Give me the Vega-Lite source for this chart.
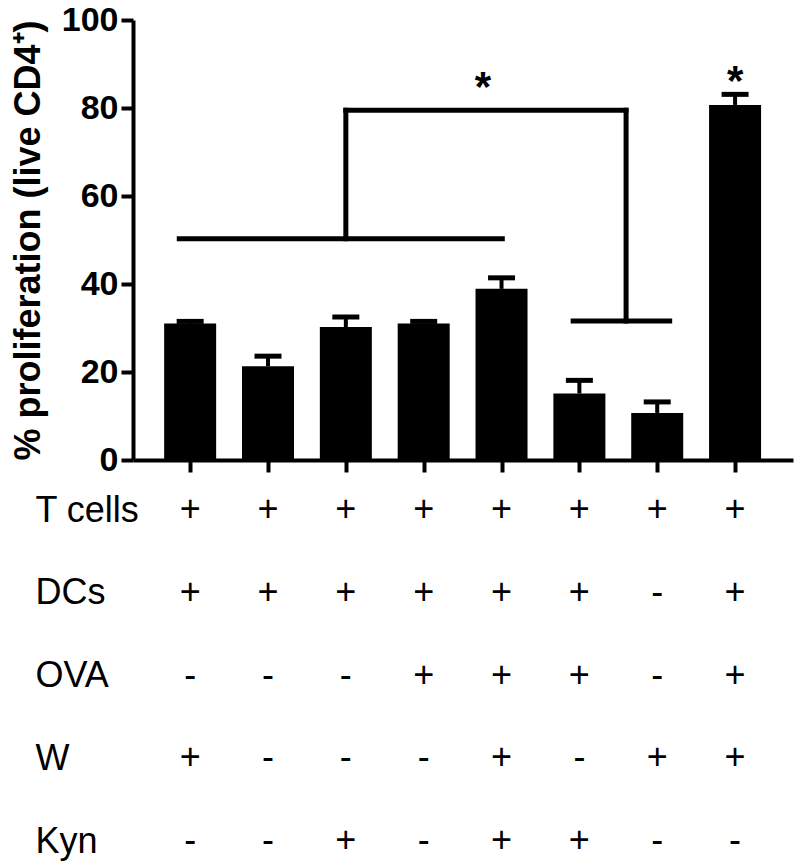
{
  "$schema": "https://vega.github.io/schema/vega-lite/v6.json",
  "autosize": "none",
  "width": 660,
  "height": 440,
  "padding": {"left": 133, "top": 20, "right": 7, "bottom": 405},
  "background": "white",
  "config": {"view": {"stroke": null}, "font": "Liberation Sans"},
  "datasets": {
    "bars": [
      {"group": 1, "value": 31.0, "upper": 31.5},
      {"group": 2, "value": 21.3, "upper": 23.6},
      {"group": 3, "value": 30.2, "upper": 32.5},
      {"group": 4, "value": 31.0, "upper": 31.5},
      {"group": 5, "value": 38.9, "upper": 41.4},
      {"group": 6, "value": 15.1, "upper": 18.1},
      {"group": 7, "value": 10.7, "upper": 13.2},
      {"group": 8, "value": 80.7, "upper": 83.1}
    ],
    "brackets": [
      {"group": 0.86, "group2": 5.01, "value": 50.3, "value2": 50.3},
      {"group": 3.0, "group2": 3.0, "value": 50.3, "value2": 79.5},
      {"group": 3.0, "group2": 6.6, "value": 79.5, "value2": 79.5},
      {"group": 6.6, "group2": 6.6, "value": 79.5, "value2": 31.6},
      {"group": 5.92, "group2": 7.16, "value": 31.6, "value2": 31.6}
    ],
    "stars": [
      {"group": 4.76, "value": 81.6, "label": "*"},
      {"group": 8.0, "value": 82.9, "label": "*"}
    ],
    "table": [
      {"group": 1, "factor": "T cells", "sign": "+"},
      {"group": 2, "factor": "T cells", "sign": "+"},
      {"group": 3, "factor": "T cells", "sign": "+"},
      {"group": 4, "factor": "T cells", "sign": "+"},
      {"group": 5, "factor": "T cells", "sign": "+"},
      {"group": 6, "factor": "T cells", "sign": "+"},
      {"group": 7, "factor": "T cells", "sign": "+"},
      {"group": 8, "factor": "T cells", "sign": "+"},
      {"group": 1, "factor": "DCs", "sign": "+"},
      {"group": 2, "factor": "DCs", "sign": "+"},
      {"group": 3, "factor": "DCs", "sign": "+"},
      {"group": 4, "factor": "DCs", "sign": "+"},
      {"group": 5, "factor": "DCs", "sign": "+"},
      {"group": 6, "factor": "DCs", "sign": "+"},
      {"group": 7, "factor": "DCs", "sign": "-"},
      {"group": 8, "factor": "DCs", "sign": "+"},
      {"group": 1, "factor": "OVA", "sign": "-"},
      {"group": 2, "factor": "OVA", "sign": "-"},
      {"group": 3, "factor": "OVA", "sign": "-"},
      {"group": 4, "factor": "OVA", "sign": "+"},
      {"group": 5, "factor": "OVA", "sign": "+"},
      {"group": 6, "factor": "OVA", "sign": "+"},
      {"group": 7, "factor": "OVA", "sign": "-"},
      {"group": 8, "factor": "OVA", "sign": "+"},
      {"group": 1, "factor": "W", "sign": "+"},
      {"group": 2, "factor": "W", "sign": "-"},
      {"group": 3, "factor": "W", "sign": "-"},
      {"group": 4, "factor": "W", "sign": "-"},
      {"group": 5, "factor": "W", "sign": "+"},
      {"group": 6, "factor": "W", "sign": "-"},
      {"group": 7, "factor": "W", "sign": "+"},
      {"group": 8, "factor": "W", "sign": "+"},
      {"group": 1, "factor": "Kyn", "sign": "-"},
      {"group": 2, "factor": "Kyn", "sign": "-"},
      {"group": 3, "factor": "Kyn", "sign": "+"},
      {"group": 4, "factor": "Kyn", "sign": "-"},
      {"group": 5, "factor": "Kyn", "sign": "+"},
      {"group": 6, "factor": "Kyn", "sign": "+"},
      {"group": 7, "factor": "Kyn", "sign": "-"},
      {"group": 8, "factor": "Kyn", "sign": "-"}
    ]
  },
  "layer": [
    {
      "layer": [
        {
          "data": {"name": "bars"},
          "mark": {"type": "bar", "orient": "vertical", "size": 52, "color": "black"},
          "encoding": {
            "x": {"field": "group", "type": "quantitative",
                  "scale": {"domain": [0.33, 8.68], "nice": false, "zero": false},
                  "axis": {"values": [1, 2, 3, 4, 5, 6, 7, 8], "labels": false, "title": null, "grid": false,
                           "tickSize": 12, "tickWidth": 4, "tickColor": "black",
                           "domainWidth": 4, "domainColor": "black"}},
            "y": {"field": "value", "type": "quantitative",
                  "scale": {"domain": [0, 100], "nice": false},
                  "axis": {"values": [0, 20, 40, 60, 80, 100], "grid": false,
                           "title": "% proliferation (live CD4⁺)",
                           "titleFont": "Liberation Sans", "titleFontSize": 36, "titleFontWeight": "bold", "titleColor": "black",
                           "titlePadding": 14,
                           "labelFont": "Liberation Sans", "labelFontSize": 34, "labelFontWeight": "bold", "labelColor": "black",
                           "labelPadding": 3,
                           "tickSize": 12, "tickWidth": 4, "tickColor": "black",
                           "domainWidth": 4, "domainColor": "black"}}
          }
        },
        {
          "data": {"name": "bars"},
          "mark": {"type": "rule", "strokeWidth": 4, "color": "black"},
          "encoding": {
            "x": {"field": "group", "type": "quantitative"},
            "y": {"field": "value", "type": "quantitative"},
            "y2": {"field": "upper"}
          }
        },
        {
          "data": {"name": "bars"},
          "mark": {"type": "tick", "orient": "horizontal", "size": 27, "thickness": 5, "color": "black", "opacity": 1},
          "encoding": {
            "x": {"field": "group", "type": "quantitative"},
            "y": {"field": "upper", "type": "quantitative"}
          }
        },
        {
          "data": {"name": "brackets"},
          "mark": {"type": "rule", "strokeWidth": 5, "strokeCap": "square", "color": "black"},
          "encoding": {
            "x": {"field": "group", "type": "quantitative"},
            "x2": {"field": "group2"},
            "y": {"field": "value", "type": "quantitative"},
            "y2": {"field": "value2"}
          }
        },
        {
          "data": {"name": "stars"},
          "mark": {"type": "text", "fontSize": 42, "fontWeight": "bold", "font": "Liberation Sans", "baseline": "alphabetic", "align": "center", "color": "black"},
          "encoding": {
            "x": {"field": "group", "type": "quantitative"},
            "y": {"field": "value", "type": "quantitative"},
            "text": {"field": "label"}
          }
        }
      ]
    },
    {
      "data": {"name": "table"},
      "mark": {"type": "text", "fontSize": 36, "font": "Liberation Sans", "baseline": "alphabetic", "align": "center", "color": "black"},
      "encoding": {
        "x": {"field": "group", "type": "quantitative"},
        "y": {"field": "factor", "type": "nominal",
              "scale": {"type": "point", "domain": ["T cells", "DCs", "OVA", "W", "Kyn"], "range": [501, 832], "padding": 0},
              "axis": {"orient": "left", "title": null, "domain": false, "ticks": false, "tickSize": 0,
                       "labelAlign": "left", "labelBaseline": "alphabetic", "labelPadding": 98,
                       "labelFont": "Liberation Sans", "labelFontSize": 36, "labelColor": "black", "labelLimit": 300}},
        "text": {"field": "sign"}
      }
    }
  ],
  "resolve": {"scale": {"y": "independent"}, "axis": {"y": "independent"}}
}
